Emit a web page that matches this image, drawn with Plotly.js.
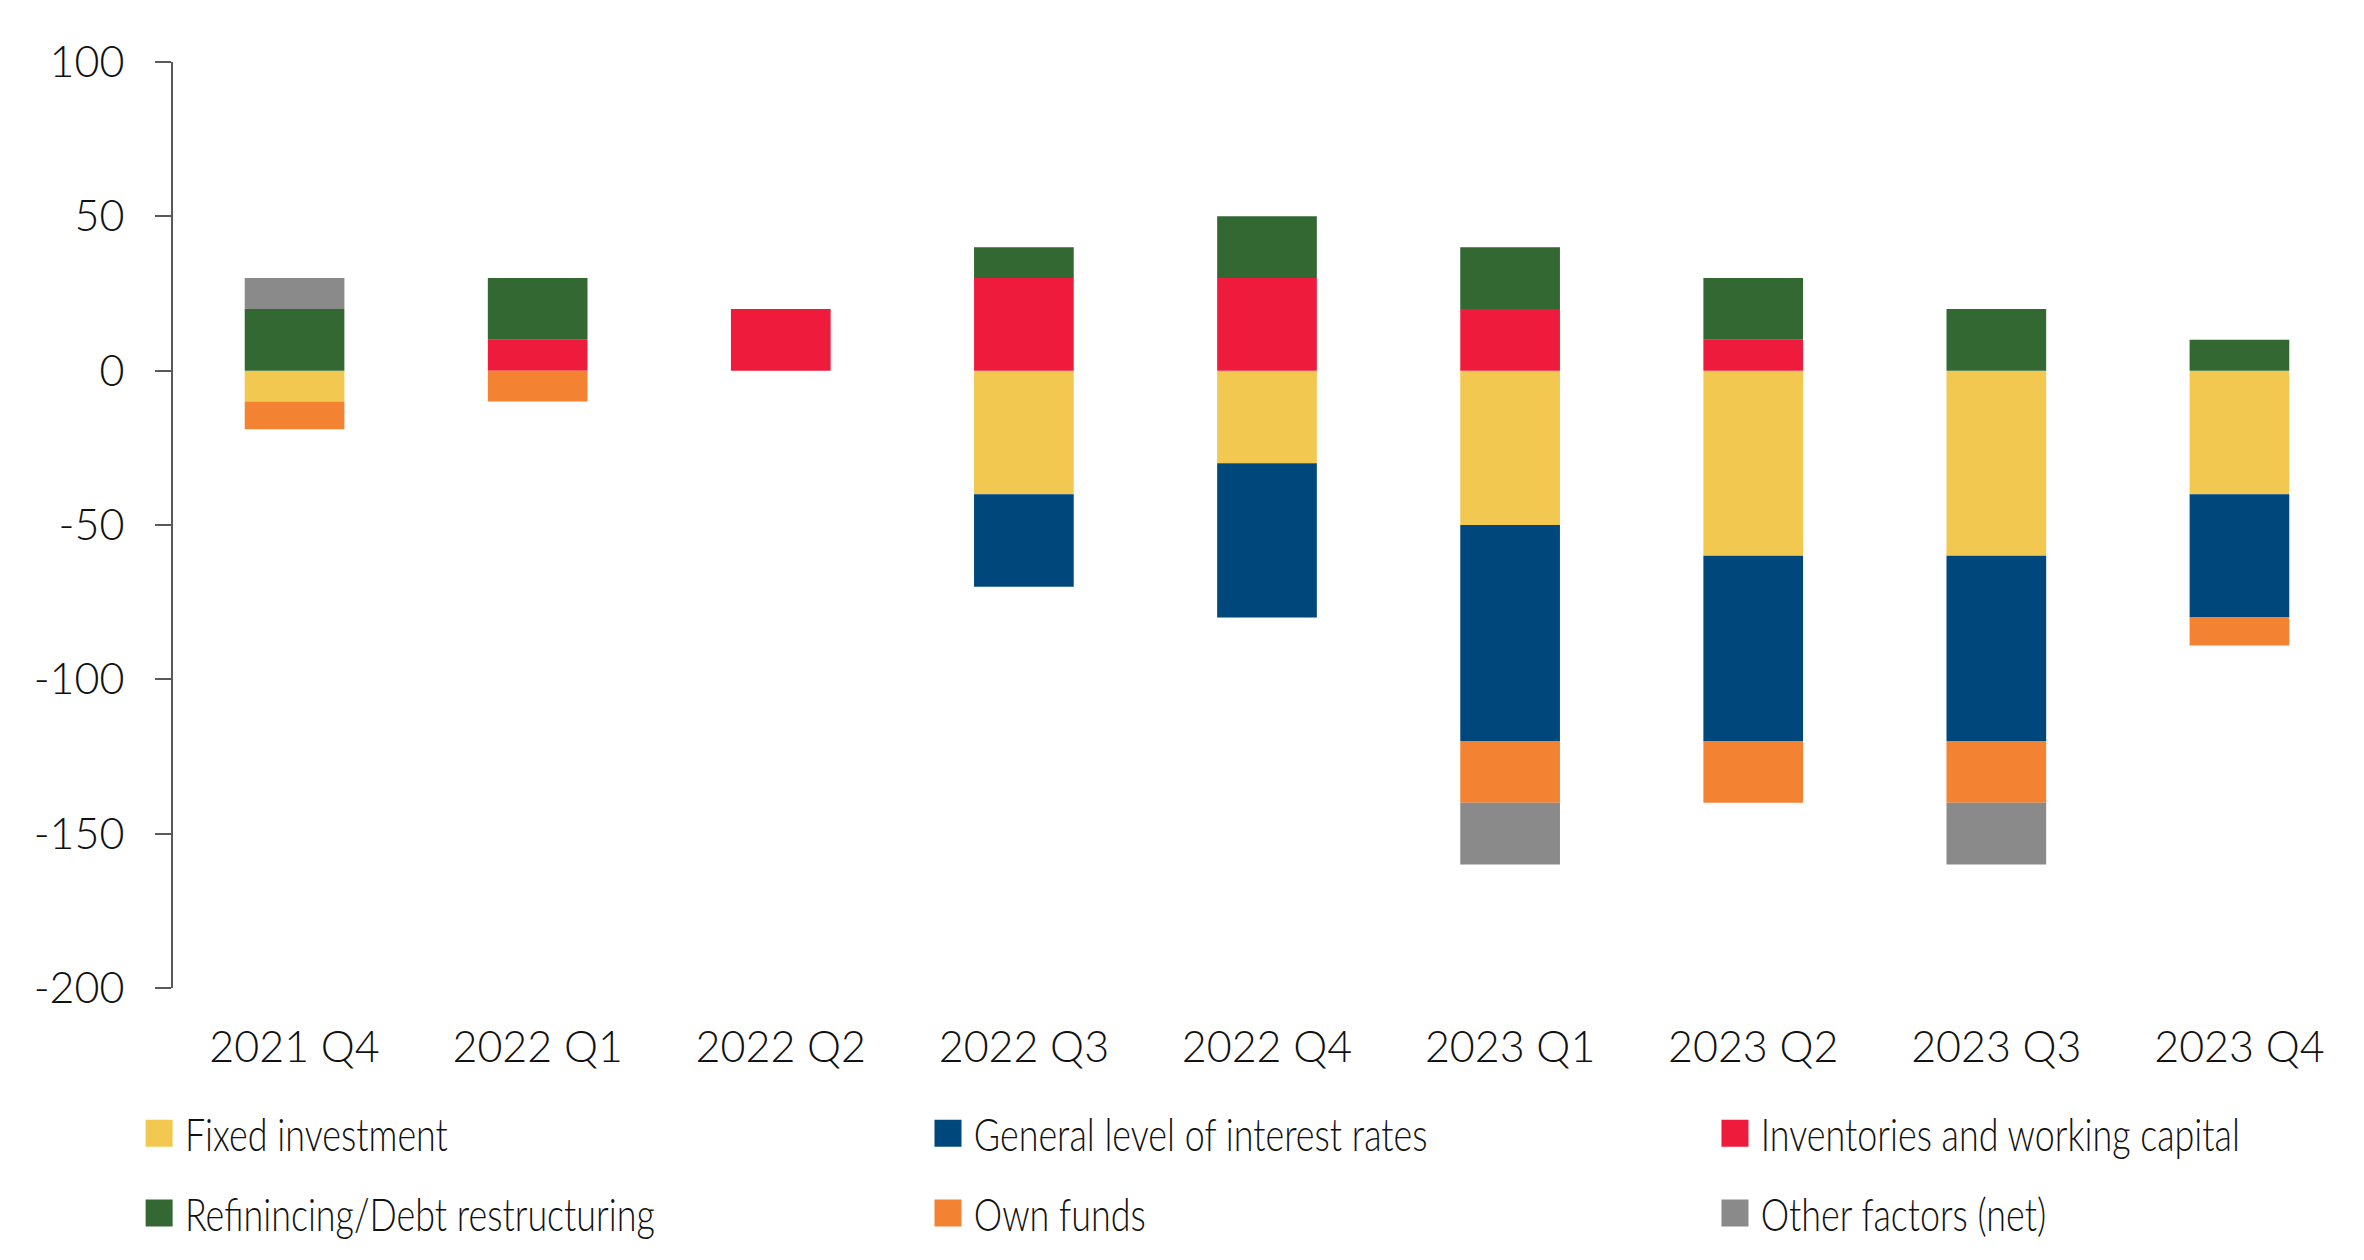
<!DOCTYPE html>
<html><head><meta charset="utf-8">
<script src="https://cdn.plot.ly/plotly-3.0.1.min.js"></script>
<style>
html,body{margin:0;padding:0;background:#fff}
text.legendtext,text.legend2text,text.legend3text{transform-box:fill-box;transform-origin:0 50%;transform:scaleX(0.78)}
</style>
</head><body><div id="chart" style="width:2364px;height:1260px"></div>
<script>
const quarters = ['2021 Q4','2022 Q1','2022 Q2','2022 Q3','2022 Q4','2023 Q1','2023 Q2','2023 Q3','2023 Q4'];
const fixedInvestment = [-10, null, null, -40, -30, -50, -60, -60, -40];
const interestRates   = [null, null, null, -30, -50, -70, -60, -60, -40];
const inventories     = [null, 10, 20, 30, 30, 20, 10, null, null];
const refinancing     = [20, 20, null, 10, 20, 20, 20, 20, 10];
const ownFunds        = [-9, -10, null, null, null, -20, -20, -20, -9];
const otherFactors    = [10, null, null, null, null, -20, null, -20, null];
const yTicks = [-200, -150, -100, -50, 0, 50, 100];
const yTickText = ['-200', '-150', '-100', '-50', '0', '50', '100'];

const seriesNames = ['Fixed investment','General level of interest rates','Inventories and working capital',
  'Refinincing/Debt restructuring','Own funds','Other factors (net)'];
const seriesValues = [fixedInvestment, interestRates, inventories, refinancing, ownFunds, otherFactors];
const seriesColors = ['#F2C851','#00477B','#EE1B3D','#336833','#F38233','#8A8A8A'];
const seriesLegend = ['legend','legend2','legend3','legend','legend2','legend3'];

const traces = seriesNames.map((name, i) => ({
  type: 'bar', name: name, x: quarters, y: seriesValues[i],
  marker: {color: seriesColors[i], line: {width: 0}},
  legend: seriesLegend[i], legendgroup: 'g' + i,
  hoverinfo: 'x+y+name'
}));

const boundaries = quarters.map((q, i) => i - 0.5).concat([quarters.length - 0.5]);
const axisFont = {family: 'Lato, "Open Sans", sans-serif', size: 43, color: '#111111', weight: 300};
const legendFont = {family: 'Lato, "Open Sans", sans-serif', size: 46, color: '#111111', weight: 300};
const legendBase = {orientation: 'v', xref: 'container', yref: 'container', xanchor: 'left', yanchor: 'top',
  y: 0.1295, font: legendFont, tracegroupgap: 17, traceorder: 'grouped', itemwidth: 39,
  bgcolor: 'rgba(0,0,0,0)', borderwidth: 0};

const layout = {
  width: 2364, height: 1260,
  margin: {l: 173, r: 3, t: 62, b: 272, autoexpand: false},
  paper_bgcolor: '#ffffff', plot_bgcolor: '#ffffff',
  barmode: 'relative', bargap: 0.59,
  showlegend: true,
  xaxis: {type: 'category', categoryorder: 'array', categoryarray: quarters, range: [-0.5, quarters.length - 0.5],
    showline: false, ticks: '', showgrid: false, zeroline: false, tickfont: axisFont, ticklabelstandoff: 30},
  xaxis2: {overlaying: 'x', anchor: 'free', position: 200 / 300, type: 'linear',
    range: [-0.5, quarters.length - 0.5], tickmode: 'array', tickvals: boundaries, showticklabels: false,
    ticks: 'outside', ticklen: 13, tickwidth: 2, tickcolor: '#595959',
    showline: true, linecolor: '#595959', linewidth: 2.5, showgrid: false, zeroline: false},
  yaxis: {range: [-200, 100], tickmode: 'array', tickvals: yTicks, ticktext: yTickText,
    showline: true, linecolor: '#595959', linewidth: 2,
    ticks: 'outside', ticklen: 16, tickwidth: 2, tickcolor: '#595959', showgrid: false, zeroline: false,
    tickfont: axisFont, ticklabelstandoff: 22},
  legend: Object.assign({}, legendBase, {x: 0.0575}),
  legend2: Object.assign({}, legendBase, {x: 0.3912}),
  legend3: Object.assign({}, legendBase, {x: 0.7241})
};

function styleLegends(gd) {
  gd.querySelectorAll('.legendpoints path').forEach(p => {
    if (p.getAttribute('data-scaled')) return;
    const t = p.getAttribute('transform') || '';
    p.setAttribute('transform', t + ' translate(-1.3,0) scale(2.25)');
    p.setAttribute('data-scaled', '1');
  });
}

Plotly.newPlot('chart', traces, layout, {displayModeBar: false, staticPlot: true}).then(gd => {
  styleLegends(gd);
  gd.on('plotly_afterplot', () => styleLegends(gd));
});
</script></body></html>
